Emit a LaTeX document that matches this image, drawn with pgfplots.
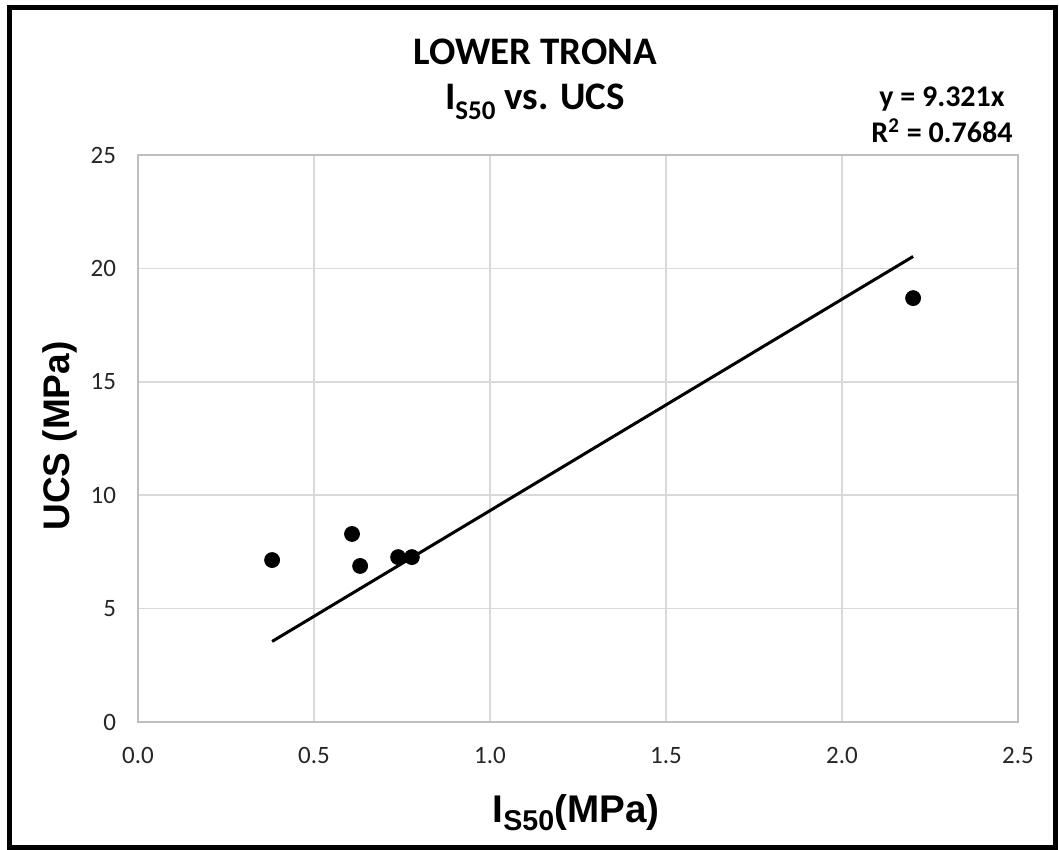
\documentclass[border=0pt]{standalone}
\usepackage{pgfplots}
\pgfplotsset{compat=1.18}
\usepackage{fontspec}
\setmainfont{Carlito}
\newfontfamily\arialfont{Liberation Sans}
\definecolor{gridc}{HTML}{D9D9D9}
\definecolor{axc}{HTML}{BFBFBF}
\begin{document}
\begin{tikzpicture}
\useasboundingbox (0,0) rectangle (529.5pt,425pt);
\draw[line width=2.5pt, black] (4.75pt,1.25pt) rectangle (527.5pt,421.25pt);
\begin{axis}[
  at={(69pt,64pt)}, anchor=south west,
  scale only axis, width=440pt, height=283.5pt,
  xmin=0, xmax=2.5, ymin=0, ymax=25,
  xtick={0,0.5,1,1.5,2,2.5}, ytick={0,5,10,15,20,25},
  xticklabel style={/pgf/number format/fixed, /pgf/number format/fixed zerofill, /pgf/number format/precision=1},
  /pgf/number format/assume math mode=true,
  tick style={draw=none},
  grid=major, major grid style={gridc, line width=0.75pt},
  axis line style={axc, line width=0.75pt},
  ticklabel style={font=\fontsize{12.5}{14}\selectfont, text=black!85},
  xticklabel style={yshift=-9pt},
  yticklabel style={xshift=-7.5pt},
  clip=false,
]
\addplot[only marks, mark=*, mark size=3.75pt, black] coordinates {
  (0.381,7.14) (0.608,8.29) (0.631,6.88) (0.739,7.27) (0.778,7.27) (2.202,18.69)
};
\addplot[black, line width=1.5pt] coordinates {(0.381,3.551) (2.202,20.525)};
\end{axis}
\node[anchor=base, font=\bfseries\fontsize{19.5}{22}\selectfont] at (267.5pt,392.5pt) {LOWER TRONA};
\node[anchor=base, font=\bfseries\fontsize{19.5}{22}\selectfont] at (267.5pt,370pt) {I\raisebox{-5pt}{\fontsize{13.5}{15}\selectfont S50} vs. UCS};
\node[anchor=base, font=\bfseries\fontsize{15}{17}\selectfont] at (471pt,371.5pt) {y = 9.321x};
\node[anchor=base, font=\bfseries\fontsize{15}{17}\selectfont] at (471pt,353.5pt) {R\textsuperscript{2} = 0.7684};
\node[rotate=90, font=\arialfont\bfseries\fontsize{18.5}{21}\selectfont] at (30pt,207pt) {UCS (MPa)};
\node[anchor=base, font=\arialfont\bfseries\fontsize{19.3}{22}\selectfont] at (288pt,13.5pt) {I\raisebox{-4pt}{\fontsize{14.3}{16}\selectfont S50}(MPa)};
\end{tikzpicture}
\end{document}
